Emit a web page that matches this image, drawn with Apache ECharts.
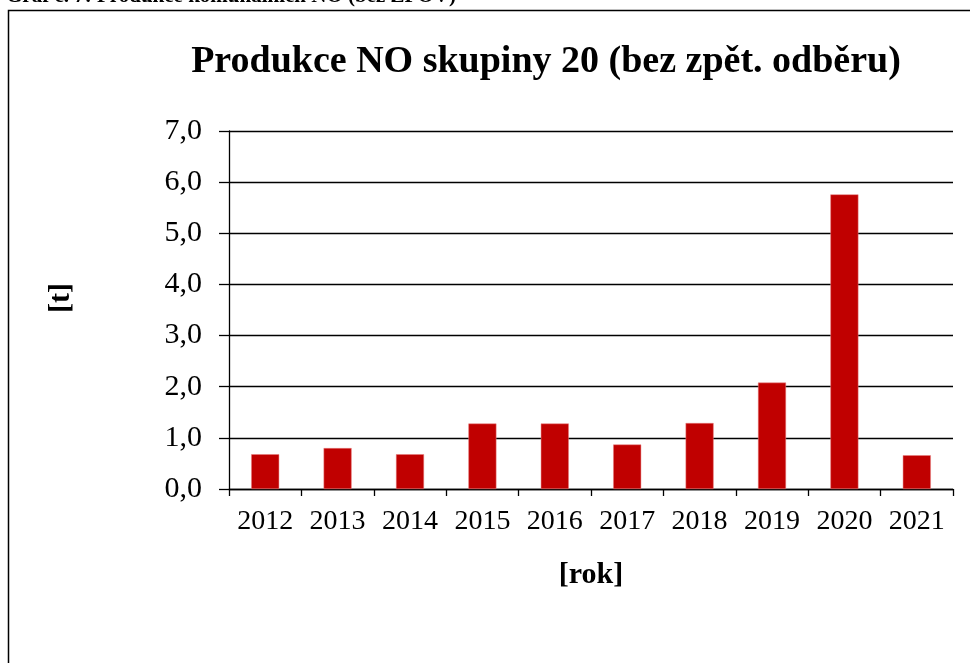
<!DOCTYPE html>
<html>
<head>
<meta charset="utf-8">
<script src="https://cdn.jsdelivr.net/npm/echarts@6/dist/echarts.min.js"></script>
<style>
  html, body { margin: 0; padding: 0; background: #fff; }
  #chart { width: 970px; height: 663px; }
</style>
</head>
<body>
<div id="chart"></div>
<script>
// data
var years = ['2012', '2013', '2014', '2015', '2016', '2017', '2018', '2019', '2020', '2021'];
var tons = [0.68, 0.80, 0.68, 1.28, 1.28, 0.87, 1.29, 2.08, 5.76, 0.66];
var yTicks = [0, 1, 2, 3, 4, 5, 6, 7];

var serif = '"Liberation Serif", "DejaVu Serif", serif';

var myChart = echarts.init(document.getElementById('chart'));

var option = {
    animation: false,
    backgroundColor: '#fff',
    title: {
        text: 'Produkce NO skupiny 20 (bez zpět. odběru)',
        left: 541,
        textAlign: 'center',
        top: 38,
        textStyle: {
            fontFamily: serif,
            fontWeight: 'bold',
            fontSize: 38,
            color: '#000'
        }
    },
    graphic: [
        {   // outer frame of the chart
            type: 'rect',
            shape: { x: 8.5, y: 10.5, width: 970, height: 670 },
            style: { fill: 'none', stroke: '#000', lineWidth: 1.5 },
            silent: true
        },
        {   // caption above, mostly cut off
            type: 'text',
            x: 6,
            y: -14,
            style: {
                text: 'Graf č. 7: Produkce komunálních NO (bez ZPOV)',
                font: 'bold 21px ' + serif,
                fill: '#000',
                verticalAlign: 'top'
            }
        },
        {   // y axis name
            type: 'text',
            x: 61,
            y: 298,
            rotation: Math.PI / 2,
            style: {
                text: '[t]',
                font: 'bold 30px ' + serif,
                fill: '#000',
                align: 'center',
                verticalAlign: 'middle'
            }
        }
    ],
    grid: {
        left: 229,
        right: 17,
        top: 131,
        bottom: 174
    },
    xAxis: {
        type: 'category',
        data: years,
        name: '[rok]',
        nameLocation: 'middle',
        nameGap: 71,
        nameTextStyle: {
            fontFamily: serif,
            fontWeight: 'bold',
            fontSize: 30,
            color: '#000'
        },
        axisLine: { lineStyle: { color: '#000', width: 1.3 } },
        axisTick: { show: true, interval: 0, length: 7, alignWithLabel: false, lineStyle: { color: '#000', width: 1.3 } },
        axisLabel: {
            interval: 0,
            margin: 19,
            fontFamily: serif,
            fontSize: 28,
            color: '#000'
        }
    },
    yAxis: {
        type: 'value',
        min: 0,
        max: yTicks[yTicks.length - 1],
        interval: 1,
        axisLine: { show: true, lineStyle: { color: '#000', width: 1.3 } },
        axisTick: { show: true, length: 10, lineStyle: { color: '#000', width: 1.3 } },
        splitLine: { show: true, lineStyle: { color: '#000', width: 1.3 } },
        axisLabel: {
            margin: 27,
            fontFamily: serif,
            fontSize: 30,
            color: '#000',
            formatter: function (v) {
                return v.toFixed(1).replace('.', ',');
            }
        }
    },
    series: [
        {
            type: 'bar',
            data: tons,
            barWidth: 28,
            itemStyle: {
                color: '#C00000',
                borderColor: '#E88080',
                borderWidth: 0.5
            }
        }
    ]
};

myChart.setOption(option);
</script>
</body>
</html>
